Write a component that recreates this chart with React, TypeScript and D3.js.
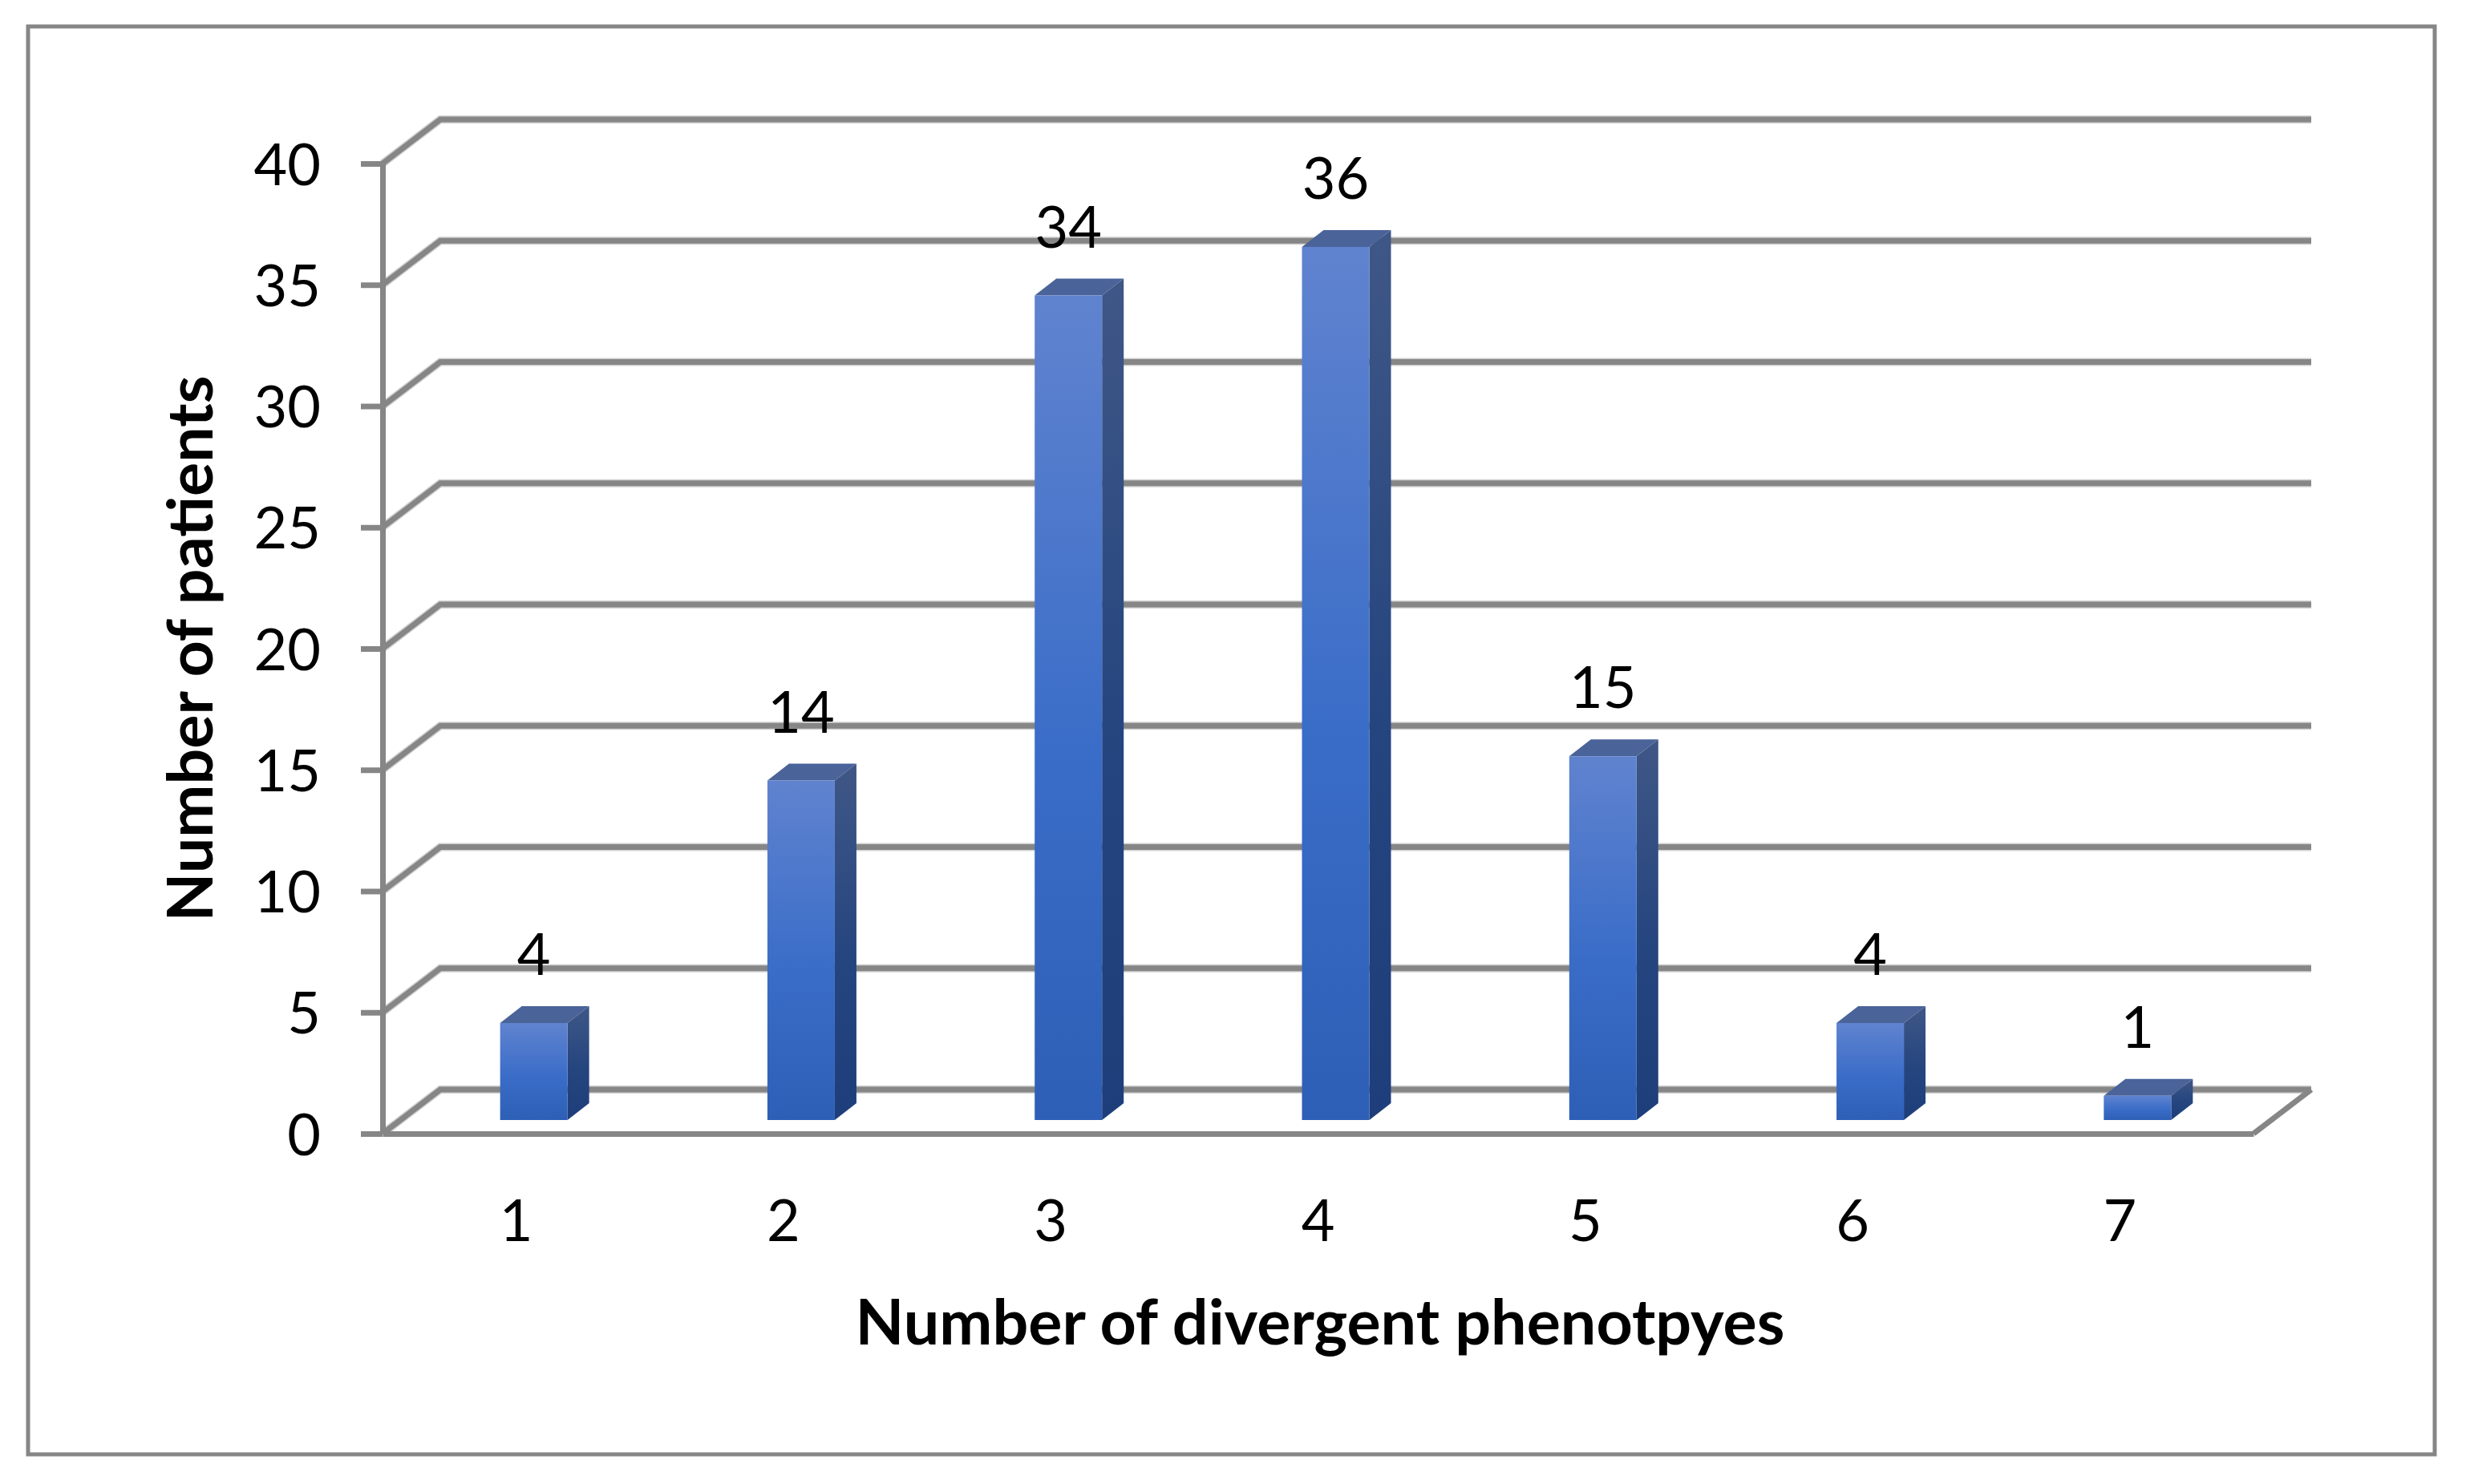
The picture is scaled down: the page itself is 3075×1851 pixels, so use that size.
import React, { useEffect, useRef } from 'react';
import * as d3 from 'd3';

const categories = ['1', '2', '3', '4', '5', '6', '7'];
const patients = [4, 14, 34, 36, 15, 4, 1];
const yTicks = [0, 5, 10, 15, 20, 25, 30, 35, 40];

const W = 3075;
const H = 1851;
const FONT = 'Lato, "Open Sans", sans-serif';
const GREY = '#868686';
// depth of the fake 3D floor and of the bars
const DEPTH_X = 72;
const DEPTH_Y = 55;
const BAR_X = 27;
const BAR_Y = 21;
const BAR_LIFT = 17;
const BAR_SHIFT = 22;

const App = () => {
  const svgRef = useRef<SVGSVGElement>(null);

  useEffect(() => {
    const svg = d3.select(svgRef.current);
    svg.selectAll('*').remove();

    const x = d3.scaleBand().domain(categories).range([477, 2810]).paddingInner(0).paddingOuter(0);
    const y = d3.scaleLinear().domain([0, 40]).range([1414, 204]);
    const barW = 84;

    const defs = svg.append('defs');
    const grad = (id: string, stops: [number, string][]) => {
      const g = defs.append('linearGradient').attr('id', id).attr('x1', 0).attr('y1', 0).attr('x2', 0).attr('y2', 1);
      stops.forEach(s => g.append('stop').attr('offset', s[0]).attr('stop-color', s[1]));
    };
    grad('front', [[0, '#6083cf'], [0.55, '#3a6dc8'], [1, '#2e5fb6']]);
    grad('side', [[0, '#3f5786'], [0.55, '#25457f'], [1, '#1e3e7b']]);

    // outer frame
    svg.append('rect')
      .attr('x', 35).attr('y', 33)
      .attr('width', 3001).attr('height', 1781)
      .attr('fill', '#fff')
      .attr('stroke', GREY).attr('stroke-width', 5);

    // back wall gridlines with their diagonal going to the axis
    const x0 = x.range()[0];
    const x1 = x.range()[1];
    const wall = svg.append('g').attr('fill', 'none');
    const gridPath = (d: number) => {
      const p = d3.path();
      p.moveTo(x0, y(d));
      p.lineTo(x0 + DEPTH_X, y(d) - DEPTH_Y);
      p.lineTo(x1 + DEPTH_X, y(d) - DEPTH_Y);
      return p.toString();
    };
    wall.selectAll('path.shadow').data(yTicks).enter().append('path')
      .attr('class', 'shadow')
      .attr('d', gridPath)
      .attr('stroke', '#cfcfcf').attr('stroke-width', 10);
    wall.selectAll('path.line').data(yTicks).enter().append('path')
      .attr('class', 'line')
      .attr('d', gridPath)
      .attr('stroke', GREY).attr('stroke-width', 7);

    // floor edge on the right
    svg.append('path')
      .attr('d', `M${x1},${y(0)}L${x1 + DEPTH_X},${y(0) - DEPTH_Y}`)
      .attr('stroke', GREY).attr('stroke-width', 7).attr('fill', 'none');

    // axes
    const yAxis = svg.append('g')
      .attr('transform', `translate(${x0},0)`)
      .call(d3.axisLeft(y).tickValues(yTicks).tickSize(27).tickPadding(50).tickSizeOuter(0));
    const xAxis = svg.append('g')
      .attr('transform', `translate(0,${y(0)})`)
      .call(d3.axisBottom(x).tickSize(0).tickSizeOuter(0));

    [yAxis, xAxis].forEach(a => {
      a.selectAll('path, line').attr('stroke', GREY).attr('stroke-width', 7);
      a.selectAll('text').attr('fill', '#000').style('font-family', FONT).style('font-size', '72px');
    });
    yAxis.selectAll('text').attr('dy', 26);
    xAxis.selectAll('text').attr('y', 134).attr('dy', 0);

    // bars
    const bars = svg.append('g').selectAll('g').data(patients).enter().append('g');
    const left = (i: number) => (x(categories[i]) as number) + x.bandwidth() / 2 - barW / 2 + BAR_SHIFT;
    const top = (d: number) => y(d) - BAR_LIFT;
    const bottom = y(0) - BAR_LIFT;

    bars.append('path')
      .attr('d', (d, i) => {
        const r = left(i) + barW;
        return `M${r},${top(d)}L${r + BAR_X},${top(d) - BAR_Y}L${r + BAR_X},${bottom - BAR_Y}L${r},${bottom}Z`;
      })
      .attr('fill', 'url(#side)');
    bars.append('path')
      .attr('d', (d, i) => {
        const l = left(i);
        return `M${l},${top(d)}L${l + BAR_X},${top(d) - BAR_Y}L${l + barW + BAR_X},${top(d) - BAR_Y}L${l + barW},${top(d)}Z`;
      })
      .attr('fill', '#4a6399');
    bars.append('rect')
      .attr('x', (_, i) => left(i))
      .attr('y', d => top(d))
      .attr('width', barW)
      .attr('height', d => bottom - top(d))
      .attr('fill', 'url(#front)');

    // value labels
    bars.append('text')
      .attr('x', (_, i) => left(i) + barW / 2)
      .attr('y', d => top(d) - BAR_Y - 39)
      .attr('text-anchor', 'middle')
      .style('font-family', FONT).style('font-size', '72px')
      .text(d => d);

    // axis titles
    svg.append('text')
      .attr('x', 1646).attr('y', 1677)
      .attr('text-anchor', 'middle')
      .style('font-family', FONT).style('font-size', '79px').style('font-weight', 700)
      .text('Number of divergent phenotpyes');
    svg.append('text')
      .attr('transform', 'translate(265,809) rotate(-90)')
      .attr('text-anchor', 'middle')
      .style('font-family', FONT).style('font-size', '79px').style('font-weight', 700)
      .text('Number of patients');
  }, []);

  return (
    <svg
      ref={svgRef}
      width={W}
      height={H}
      style={{ position: 'absolute', left: 0, top: 0, background: '#fff' }}
    />
  );
};

export default App;
